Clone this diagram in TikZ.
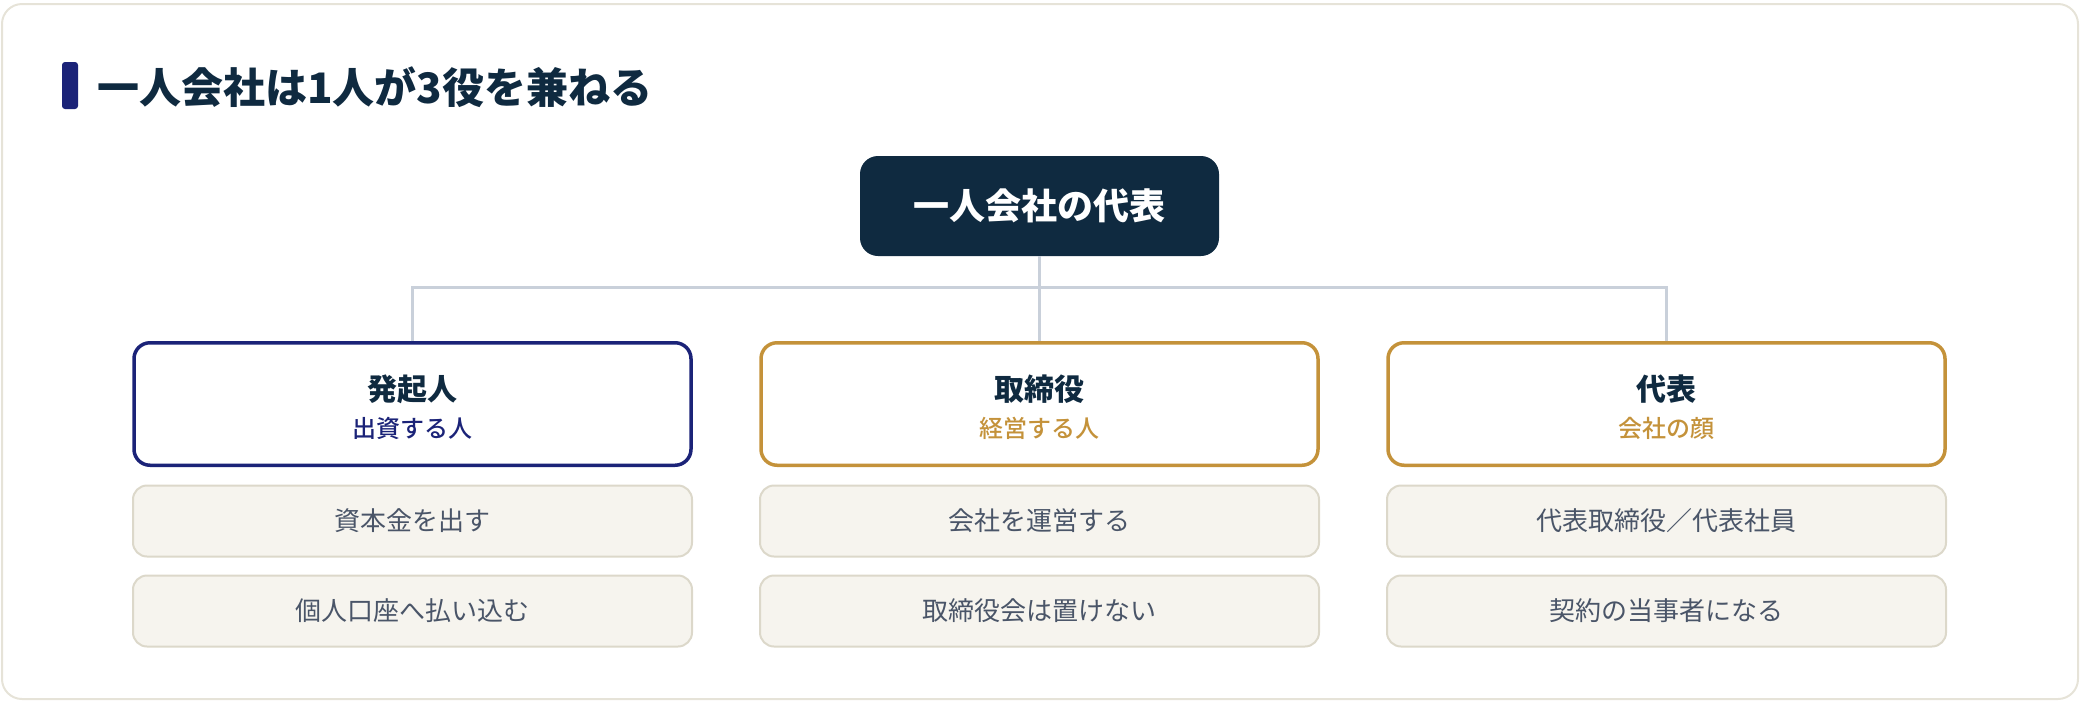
\documentclass[tikz,border=0pt]{standalone}
\usepackage{fontspec}
\setmainfont{Noto Sans CJK JP}
\newfontfamily\medfont{Noto Sans CJK JP Medium}
\definecolor{frameC}{HTML}{E6E3D8}
\definecolor{navy}{HTML}{1B2378}
\definecolor{ink}{HTML}{0F2A40}
\definecolor{gold}{HTML}{C4923A}
\definecolor{itemFill}{HTML}{F6F4EE}
\definecolor{itemLine}{HTML}{DCD8CA}
\definecolor{itemText}{HTML}{4A5568}
\definecolor{connC}{HTML}{C9D0DA}
\tikzset{
  topbox/.style={fill=ink, draw=none, rounded corners=18pt, minimum width=359pt, minimum height=100pt, inner sep=0pt},
  rolebox/.style={fill=white, line width=3.5pt, rounded corners=16pt, minimum width=557pt, minimum height=122.5pt, inner sep=0pt},
  itembox/.style={fill=itemFill, draw=itemLine, line width=2pt, rounded corners=14pt, minimum width=559pt, minimum height=71pt, inner sep=0pt},
  roletitle/.style={inner sep=0pt, text=ink, font=\bfseries\fontsize{30pt}{32pt}\selectfont},
  rolesub/.style={inner sep=0pt, font=\medfont\fontsize{24pt}{26pt}\selectfont},
  itemlabel/.style={inner sep=0pt, text=itemText, font=\fontsize{26pt}{28pt}\selectfont},
  conn/.style={draw=connC, line width=3pt}
}
\begin{document}
\begin{tikzpicture}[x=1pt,y=-1pt]
\useasboundingbox (0,0) rectangle (2080,702);
\draw[frameC, line width=2pt, rounded corners=20pt] (2,4) rectangle (2078,699);
% title
\fill[navy, rounded corners=3pt] (62,62) rectangle (78,109);
\node[anchor=west, inner sep=0pt, text=ink, font=\bfseries\fontsize{42pt}{44pt}\selectfont] (title) at (97,87) {一人会社は1人が3役を兼ねる};
% top
\node[topbox] (top) at (1039.5,206) {};
\node[inner sep=0pt, text=white, font=\bfseries\fontsize{36pt}{38pt}\selectfont] (toplabel) at (top.center) {一人会社の代表};
% roles
\node[rolebox, draw=navy] (r1) at (412.5,404) {};
\node[rolebox, draw=gold] (r2) at (1039.5,404) {};
\node[rolebox, draw=gold] (r3) at (1666.5,404) {};
\node[roletitle] (r1t) at (412.5,389) {発起人};
\node[rolesub, text=navy] (r1s) at (412.5,428) {出資する人};
\node[roletitle] (r2t) at (1039.5,389) {取締役};
\node[rolesub, text=gold] (r2s) at (1039.5,428) {経営する人};
\node[roletitle] (r3t) at (1666.5,389) {代表};
\node[rolesub, text=gold] (r3s) at (1666.5,428) {会社の顔};
% connectors
\coordinate (bus) at (1039.5,287);
\draw[conn] (top.south) -- (r2.north);
\draw[conn] (r1.north) -- (r1.north |- bus) -- (r3.north |- bus) -- (r3.north);
% items
\node[itembox] (i11) at (412.5,521) {};
\node[itemlabel] (i11t) at (i11.center) {資本金を出す};
\node[itembox] (i12) at (412.5,611) {};
\node[itemlabel] (i12t) at (i12.center) {個人口座へ払い込む};
\node[itembox] (i21) at (1039.5,521) {};
\node[itemlabel] (i21t) at (i21.center) {会社を運営する};
\node[itembox] (i22) at (1039.5,611) {};
\node[itemlabel] (i22t) at (i22.center) {取締役会は置けない};
\node[itembox] (i31) at (1666.5,521) {};
\node[itemlabel] (i31t) at (i31.center) {代表取締役／代表社員};
\node[itembox] (i32) at (1666.5,611) {};
\node[itemlabel] (i32t) at (i32.center) {契約の当事者になる};
\end{tikzpicture}
\end{document}
